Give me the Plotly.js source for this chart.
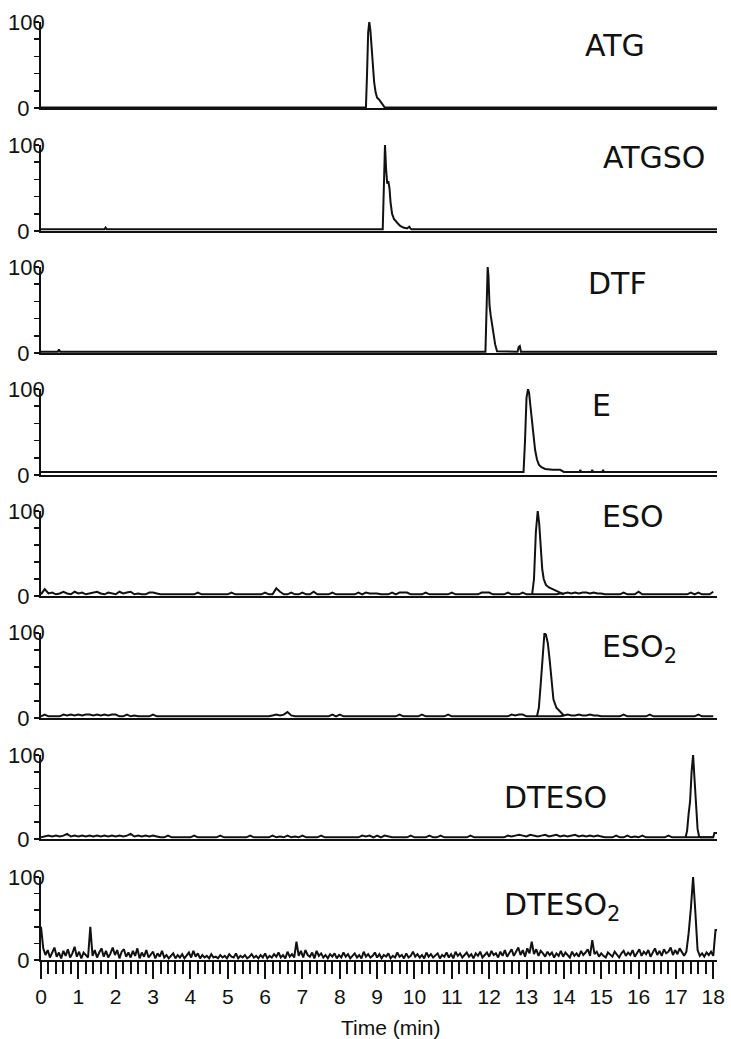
<!DOCTYPE html>
<html><head><meta charset="utf-8">
<script src="https://cdn.plot.ly/plotly-3.0.1.min.js"></script>
<style>html,body{margin:0;padding:0;background:#fff}</style>
</head><body><div id="chart" style="width:731px;height:1039px"></div>
<script>
// ---------------- DATA ----------------
const panelNames = ['ATG','ATGSO','DTF','E','ESO','ESO<sub>2</sub>','DTESO','DTESO<sub>2</sub>'];
const timeTickLabels = ['0','1','2','3','4','5','6','7','8','9','10','11','12','13','14','15','16','17','18'];
const yTickLabels = ['0'];
const yTickValues = [0];

// ATG
const timeAtg   = [0, 8.70, 8.73, 8.76, 8.79, 8.82, 8.85, 8.88, 8.92, 8.96, 9.00, 9.05, 9.10, 9.15, 9.20, 18.1];
const signalAtg = [0.5, 0.5, 40, 88, 100, 90, 72, 50, 30, 18, 12, 10, 7, 3, 0.8, 0.5];

// ATGSO
const timeAtgso   = [0, 1.70, 1.73, 1.76, 9.15, 9.18, 9.21, 9.24, 9.27, 9.30, 9.33, 9.36, 9.40, 9.45, 9.50, 9.55, 9.62, 9.70, 9.80, 9.86, 9.89, 9.92, 18.1];
const signalAtgso = [2, 2, 4, 2, 2, 50, 100, 72, 55, 58, 50, 33, 20, 14, 11, 9, 6, 4, 3, 5, 3, 2, 2];

// DTF
const timeDtf   = [0, 0.45, 0.48, 0.51, 11.90, 11.93, 11.96, 11.98, 12.01, 12.04, 12.08, 12.12, 12.16, 12.21, 12.76, 12.79, 12.82, 12.85, 18.1];
const signalDtf = [1.5, 1.5, 4, 1.5, 1.5, 60, 100, 90, 55, 44, 32, 20, 10, 2, 1.5, 7, 8, 1.5, 1.5];

// E
const timeE   = [0, 12.92, 12.96, 13.00, 13.04, 13.07, 13.10, 13.14, 13.18, 13.23, 13.28, 13.33, 13.40, 13.50, 13.70, 13.90, 14.00, 14.42, 14.44, 14.46, 14.74, 14.76, 14.78, 15.03, 15.05, 15.07, 18.1];
const signalE = [3.5, 3.5, 40, 90, 100, 95, 82, 65, 45, 29, 18, 12, 9, 7, 6, 6, 3.5, 3.5, 6, 3.5, 3.5, 6, 3.5, 3.5, 6, 3.5, 3.5];

// ESO : baseline noise sampled every 0.1 min, plus the peak
const noiseEso = [
 2,8,3,4,2,3,5,3,2,5, 3,4,2,3,4,5,3,2,4,3, 2,5,3,4,5,2,3,2,2,4, 4,3,2,2,2,2,2,2,2,2,
 2,2,4,2,2,2,2,2,2,2, 2,4,2,2,2,2,2,2,2,2, 4,2,2,9,5,2,2,4,2,2, 4,2,2,5,2,2,2,2,4,2,
 2,2,2,2,2,4,2,4,3,3, 3,2,2,2,4,2,4,4,4,2, 2,2,2,4,2,2,2,2,2,2, 4,2,2,2,2,2,2,2,4,4,
 4,2,2,2,2,4,2,2,2,4, 2,2,2,2,2,2,2,2,2,3, 3,4,3,4,3,4,4,3,4,3, 3,2,2,2,2,2,4,2,2,2,
 5,2,2,2,2,2,2,2,2,2, 2,2,2,2,4,2,4,2,2,2, 5];
const timeEsoPeak   = [13.15, 13.20, 13.25, 13.30, 13.34, 13.38, 13.42, 13.46, 13.52, 13.60, 13.70, 13.80, 13.90, 14.00];
const signalEsoPeak = [2, 20, 75, 100, 85, 55, 32, 20, 13, 10, 8, 6, 4, 2];

// ESO2
const noiseEso2 = [
 2,4,2,2,2,2,4,3,4,3, 4,3,4,4,3,4,3,4,3,4, 4,2,2,4,2,3,2,2,2,2, 4,2,2,2,2,2,2,2,2,2,
 2,2,2,2,2,2,2,2,2,2, 2,2,2,2,2,2,2,2,2,2, 2,2,3,4,3,4,7,3,2,2, 2,2,2,2,2,2,2,2,4,2,
 4,2,2,2,2,2,2,2,2,2, 2,2,2,2,2,2,4,2,2,2, 2,2,4,2,2,2,2,2,2,4, 2,2,2,2,2,2,2,2,2,2,
 2,2,2,2,2,2,4,3,4,4, 2,2,2,2,2,2,2,2,2,2, 3,4,3,3,4,3,3,4,3,3, 2,2,2,2,2,2,4,2,2,2,
 2,2,2,4,2,2,2,2,2,2, 2,2,2,2,2,2,4,2,2,2, 2];
const timeEso2Peak   = [13.28, 13.33, 13.38, 13.43, 13.48, 13.52, 13.57, 13.62, 13.67, 13.72, 13.80, 13.90, 14.00];
const signalEso2Peak = [2, 12, 40, 75, 100, 98, 88, 68, 42, 22, 12, 7, 3];

// DTESO
const noiseDteso = [
 2,3,4,3,4,3,4,6,3,4, 3,4,3,4,3,4,3,4,3,4, 3,4,3,4,6,3,4,3,4,3, 4,3,2,2,4,2,2,2,2,2,
 2,4,2,2,2,2,2,2,4,2, 2,2,2,2,2,2,4,2,2,2, 2,2,4,2,3,2,4,2,3,2, 4,2,2,2,2,4,2,2,2,2,
 2,2,2,2,2,2,4,3,4,2, 4,2,4,3,2,2,2,2,2,4, 2,2,2,2,4,2,2,4,2,2, 2,2,2,2,2,4,2,2,2,2,
 2,2,2,2,2,4,3,4,5,4, 3,5,4,3,4,5,3,4,5,3, 4,3,4,5,3,4,3,4,3,4, 3,2,2,2,4,2,2,4,2,3,
 2,4,2,2,2,2,2,2,4,2, 2,2,2,2,2,2,2,2,2,2, 2];
const timeDtesoPeak   = [17.26, 17.30, 17.34, 17.38, 17.42, 17.46, 17.50, 17.54, 17.58, 17.62, 17.66, 17.90, 18.00, 18.03, 18.10];
const signalDtesoPeak = [2, 10, 30, 45, 80, 100, 70, 40, 12, 3, 2, 2, 2, 7, 7];

// DTESO2 : signal sampled every 0.06 min
const signalDteso2 = [
 40,14,6,12,3,10,15,4,9,2,     11,5,13,3,8,16,4,10,2,9,
 6,3,40,5,12,3,9,14,4,11,      3,8,15,6,12,2,10,13,4,9,
 3,11,5,14,2,9,4,12,3,7,       10,2,8,4,11,3,6,2,5,8,
 2,6,3,7,2,5,9,3,11,4,         8,2,6,3,5,2,7,3,4,2,
 6,3,5,2,7,4,3,8,2,5,          3,6,2,4,7,3,5,2,6,3,
 8,2,5,3,7,4,9,3,6,2,          10,4,7,3,22,5,11,3,12,6,
 4,9,2,11,5,8,3,6,2,7,         4,8,2,6,3,9,4,7,2,5,
 8,3,6,2,10,4,7,3,5,9,         3,7,2,6,4,8,2,5,3,9,
 4,6,2,8,3,5,10,4,7,3,         6,2,9,4,7,3,5,8,2,6,
 4,9,3,7,2,10,5,8,3,6,         9,4,7,2,8,5,10,3,6,9,
 4,11,6,8,3,10,5,12,4,9,       13,5,10,15,6,12,4,14,8,22,
 7,13,5,11,8,4,10,6,9,3,       8,5,11,4,9,6,3,10,5,8,
 4,11,6,9,13,5,24,7,10,4,      8,5,3,9,6,4,10,7,3,8,
 11,5,9,6,12,4,8,13,5,10,      7,12,4,9,14,6,11,5,13,8,
 10,15,6,12,7,14,9,5,10,32,    62,100,58,12,5,8,4,9,6,10,
 5,36,36];

// ---------------- CHART ----------------
const lineStyle = {color: '#111', width: 2};
function ax(k, pre){ return pre + (k === 1 ? '' : k); }

const traces = [];
function addTrace(k, tr){
  traces.push(Object.assign({type:'scatter', mode:'lines', line: lineStyle, hoverinfo:'skip', showlegend:false,
    xaxis: ax(k,'x'), yaxis: ax(k,'y')}, tr));
}
addTrace(1, {x: timeAtg, y: signalAtg});
addTrace(2, {x: timeAtgso, y: signalAtgso});
addTrace(3, {x: timeDtf, y: signalDtf});
addTrace(4, {x: timeE, y: signalE});
addTrace(5, {x0: 0, dx: 0.1, y: noiseEso});
addTrace(5, {x: timeEsoPeak, y: signalEsoPeak});
addTrace(6, {x0: 0, dx: 0.1, y: noiseEso2});
addTrace(6, {x: timeEso2Peak, y: signalEso2Peak});
addTrace(7, {x0: 0, dx: 0.1, y: noiseDteso});
addTrace(7, {x: timeDtesoPeak, y: signalDtesoPeak});
addTrace(8, {x0: 0, dx: 0.06, y: signalDteso2});

// layout geometry (pixels -> domains)
const plotTop = 22, plotBottom = 960, plotH = plotBottom - plotTop;
const panelPix = [[22,108],[145,231],[267,353],[389,475],[511,596],[633,718],[755,839],[877,960]];
const labelPos = [[14.52,73],[15.0,85],[14.6,81],[14.7,81],[14.97,94],[14.97,82],[12.35,50],[12.35,64]];

const layout = {
  width: 731, height: 1039,
  margin: {l: 41, r: 14, t: plotTop, b: 1039 - plotBottom},
  paper_bgcolor: '#fff', plot_bgcolor: '#fff',
  font: {family: 'Liberation Sans, Arial, sans-serif', color: '#111'},
  annotations: []
};

for (let k = 1; k <= 8; k++) {
  const [top, bot] = panelPix[k-1];
  const xa = {
    range: [0, 18.1], anchor: ax(k,'y'), showline: true, linecolor: '#111', linewidth: 2,
    showgrid: false, zeroline: false, fixedrange: true
  };
  if (k === 8) {
    Object.assign(xa, {
      tickmode: 'array', tickvals: timeTickLabels.map(Number), ticktext: timeTickLabels,
      ticks: 'outside', ticklen: 17, tickwidth: 2, tickcolor: '#111',
      tickfont: {size: 21, color: '#111'},
      minor: {dtick: 0.2, tick0: 0, ticks: 'outside', ticklen: 12, tickwidth: 2, tickcolor: '#111', showgrid: false}
    });
  } else {
    Object.assign(xa, {showticklabels: false, ticks: ''});
  }
  layout[ax(k,'xaxis')] = xa;
  layout[ax(k,'yaxis')] = {
    domain: [(plotBottom - bot) / plotH, (plotBottom - top) / plotH],
    range: [0, 100], anchor: ax(k,'x'), showline: true, linecolor: '#111', linewidth: 2,
    showgrid: false, zeroline: false, fixedrange: true,
    tickmode: 'array', tickvals: yTickValues, ticktext: yTickLabels,
    ticks: 'outside', ticklen: 5, tickwidth: 1.5, tickcolor: '#111',
    tickfont: {size: 22, color: '#111'},
    minor: {dtick: 20, tick0: 0, ticks: 'outside', ticklen: 5, tickwidth: 1.5, tickcolor: '#111', showgrid: false}
  };
  layout.annotations.push({
    xref: 'paper', x: 6/676, xanchor: 'right', yref: ax(k,'y'), y: 100, yanchor: 'middle',
    text: '100', showarrow: false, font: {size: 22, color: '#111'}
  });
  layout.annotations.push({
    xref: ax(k,'x'), x: labelPos[k-1][0], xanchor: 'left', yref: ax(k,'y'), y: labelPos[k-1][1], yanchor: 'middle',
    text: panelNames[k-1], showarrow: false, font: {size: 30, color: '#111', family: 'DejaVu Sans, sans-serif'}
  });
}
layout.annotations.push({
  xref: 'paper', x: (391-41)/676, xanchor: 'center', yref: 'paper', y: (plotBottom - 1027)/plotH, yanchor: 'middle',
  text: 'Time (min)', showarrow: false, font: {size: 21, color: '#111'}
});

Plotly.newPlot('chart', traces, layout, {staticPlot: true, displayModeBar: false});
</script></body></html>
